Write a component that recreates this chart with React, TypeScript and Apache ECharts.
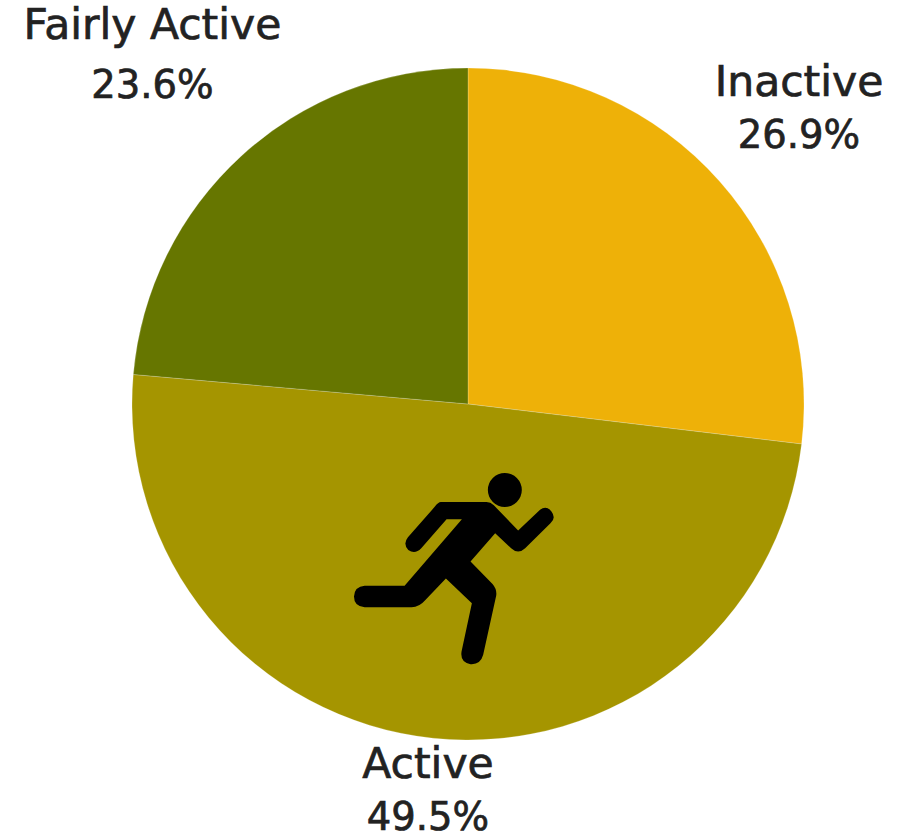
import React, { useEffect, useRef } from "react";
import * as echarts from "echarts";

const categories = ["Inactive", "Active", "Fairly Active"];
const shares = [26.9, 49.5, 23.6];
const colors = ["#EEB108", "#A59500", "#667600"];
const labelCentres = [
  [799, 108],
  [428, 776],
  [152.5, 64],
];
// Line heights of the name and percentage rows of each label.
const labelRows = [
  [53, 53],
  [80, 26],
  [40, 80],
];

const runnerPath =
  "M495 39a51 51 0 1 1 0 102a51 51 0 1 1 0 -102Z M303 126 L440 126 Q452 126 462 136 L535 212 L600 150 Q620 134 635 155 Q650 175 632 190 L556 265 Q535 285 514 265 L466 220 L392 305 L458 372 Q472 388 469 408 L430 585 Q422 615 392 613 Q360 608 365 575 L396 430 L318 356 L255 422 Q238 442 215 442 L74 442 Q42 440 42 410 Q44 380 74 378 L194 378 L366 178 L320 178 L244 265 Q225 285 205 270 Q188 252 204 232 L285 140 Q295 126 303 126 Z";
echarts.graphic.registerShape("runner", echarts.graphic.extendPath(runnerPath, {}));

const rowStyle = (fontSize: number, lineHeight: number) => ({
  fontFamily: "DejaVu Sans",
  fontSize,
  lineHeight,
  color: "#222222",
  align: "center",
  textBorderColor: "#222222",
  textBorderWidth: 0.7,
});

export default function App() {
  const ref = useRef<HTMLDivElement>(null);
  useEffect(() => {
    const chart = echarts.init(ref.current!, undefined, { renderer: "svg" });
    chart.setOption({
      animation: false,
      backgroundColor: "#ffffff",
      series: [
        {
          type: "pie",
          center: [468, 404],
          radius: [0, 336],
          startAngle: 90,
          clockwise: true,
          data: categories.map((name, i) => ({
            name,
            value: shares[i],
            itemStyle: { color: colors[i] },
            label: {
              rich: {
                n: rowStyle(42.5, labelRows[i][0]),
                p: rowStyle(38.5, labelRows[i][1]),
              },
            },
          })),
          itemStyle: { borderColor: "rgba(255,255,255,0.35)", borderWidth: 0.6 },
          label: {
            show: true,
            position: "outside",
            overflow: "none",
            formatter: "{n|{b}}\n{p|{d}%}",
            color: "#222222",
            align: "center",
          },
          labelLine: { show: false },
          labelLayout: (p: any) => ({
            x: labelCentres[p.dataIndex][0],
            y: labelCentres[p.dataIndex][1],
            align: "center",
            verticalAlign: "middle",
          }),
        },
      ],
      graphic: [
        {
          type: "runner",
          x: 340,
          y: 460,
          scaleX: 1 / 3,
          scaleY: 1 / 3,
          z: 100,
          style: { fill: "#000000" },
        },
      ],
    });
    return () => chart.dispose();
  }, []);
  return <div ref={ref} style={{ position: "absolute", left: 0, top: 0, width: 912, height: 838 }} />;
}
